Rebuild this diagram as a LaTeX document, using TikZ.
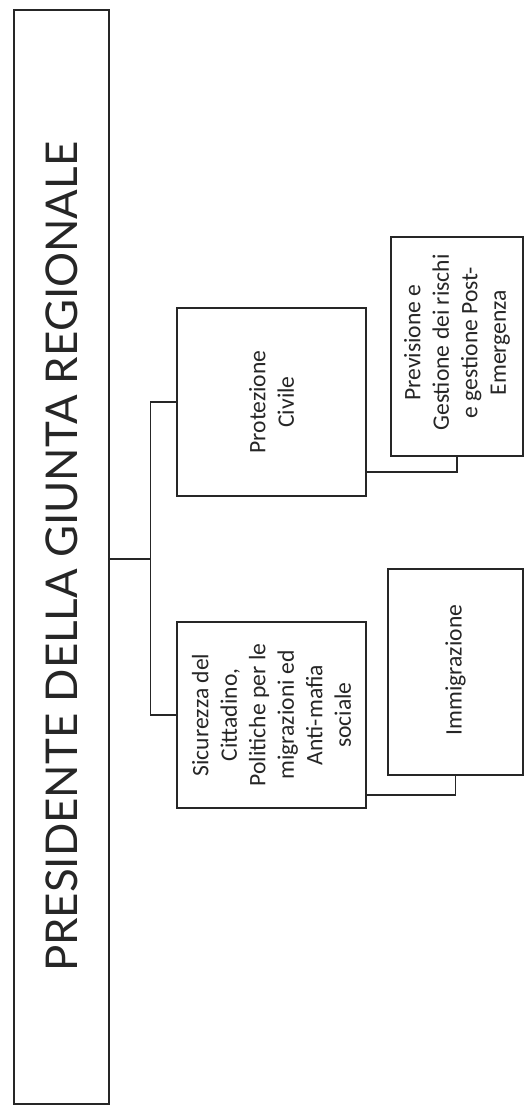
\documentclass[tikz,border=0pt]{standalone}
\usepackage{fontspec}
\setmainfont{Carlito}
\newfontfamily\titlefont{Lato}
\begin{document}
\begin{tikzpicture}[x=1pt,y=-1pt,
  box/.style={draw=black!85, line width=1.8pt, rectangle, inner sep=0pt},
  label/.style={rotate=90, align=center, inner sep=0pt, text=black!85,
    font=\fontsize{23.6}{28.5}\selectfont},
  link/.style={draw=black!85, line width=1.8pt}]
\useasboundingbox (0,0) rectangle (525,1106);
\node[box, minimum width=95pt, minimum height=1094pt] (main) at (61.5,557) {};
\node[rotate=90, inner sep=0pt, text=black!85, font=\titlefont\fontsize{43.8}{50}\selectfont]
  (maintext) at (main.center) {PRESIDENTE DELLA GIUNTA REGIONALE};
\node[box, minimum width=189pt, minimum height=188pt] (prot) at (271.5,402) {};
\node[label] (prottext) at (prot.center) {Protezione\\Civile};
\node[box, minimum width=189pt, minimum height=186pt] (sic) at (271.5,715) {};
\node[label] (sictext) at (sic.center) {Sicurezza del\\Cittadino,\\Politiche per le\\migrazioni ed\\Anti-mafia\\sociale};
\node[box, minimum width=132pt, minimum height=219pt] (prev) at (457,346.5) {};
\node[label, xshift=4pt] (prevtext) at (prev.center) {Previsione e\\Gestione dei rischi\\e gestione Post-\\Emergenza};
\node[box, minimum width=135pt, minimum height=206pt] (imm) at (455.5,672) {};
\node[label, xshift=2pt] (immtext) at (imm.center) {Immigrazione};
\coordinate (bus) at (150.5,559);
\coordinate (pj) at (457,472);
\coordinate (sj) at (455,795);
\draw[link] (main.east |- bus) -- (bus);
\draw[link] (prot.west) -| (bus |- sic.west) -- (sic.west);
\draw[link] (prot.east |- pj) -| (prev.south);
\draw[link] (sic.east |- sj) -| (imm.south);
\end{tikzpicture}
\end{document}
